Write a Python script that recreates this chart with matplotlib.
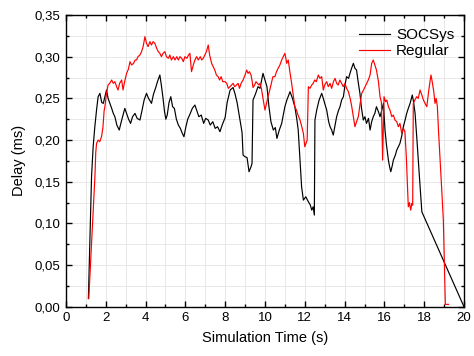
import numpy as np
import matplotlib
matplotlib.use('Agg')
import matplotlib.pyplot as plt
from matplotlib.ticker import MultipleLocator, FuncFormatter

plt.rcParams['font.family'] = ['Liberation Sans', 'DejaVu Sans']

# SOCSys curve (time in s, delay in ms)
socsys_t = [1.13, 1.29, 1.37, 1.45, 1.54, 1.62, 1.71, 1.80, 1.88, 1.96, 2.04, 2.12, 2.21, 2.30, 2.38,
            2.46, 2.56, 2.68, 2.76, 2.85, 2.96, 3.05, 3.15, 3.25, 3.35, 3.47, 3.58, 3.72, 3.82, 3.93,
            4.05, 4.15, 4.30, 4.40, 4.50, 4.60, 4.72, 4.80, 4.88, 4.95, 5.02, 5.09, 5.18, 5.27, 5.36,
            5.45, 5.55, 5.65, 5.75, 5.85, 5.93, 6.02, 6.12, 6.25, 6.35, 6.48, 6.58, 6.68, 6.80, 6.92,
            7.02, 7.15, 7.25, 7.38, 7.50, 7.62, 7.74, 7.85, 8.00, 8.10, 8.25, 8.40, 8.50, 8.60, 8.72,
            8.85, 8.90, 9.00, 9.10, 9.20, 9.30, 9.35, 9.40, 9.52, 9.65, 9.75, 9.90, 10.00, 10.10, 10.20,
            10.30, 10.42, 10.52, 10.60, 10.72, 10.84, 10.92, 11.00, 11.10, 11.26, 11.38, 11.50, 11.60,
            11.67, 11.75, 11.84, 11.93, 12.05, 12.18, 12.28, 12.35, 12.42, 12.48, 12.51, 12.60, 12.72,
            12.85, 12.93, 13.00, 13.10, 13.20, 13.27, 13.35, 13.43, 13.52, 13.60, 13.70, 13.77, 13.85,
            13.94, 14.02, 14.10, 14.20, 14.27, 14.35, 14.44, 14.52, 14.60, 14.68, 14.77, 14.85, 14.94,
            15.02, 15.10, 15.20, 15.28, 15.36, 15.44, 15.52, 15.60, 15.70, 15.78, 15.87, 15.95, 16.03,
            16.10, 16.20, 16.26, 16.32, 16.40, 16.45, 16.55, 16.62, 16.70, 16.78, 16.87, 16.95, 17.05,
            17.12, 17.20, 17.29, 17.40, 17.47, 17.54, 17.62, 17.70, 17.79, 17.88, 20.00]
socsys_d = [0.010, 0.157, 0.192, 0.215, 0.236, 0.252, 0.256, 0.245, 0.244, 0.252, 0.260, 0.250, 0.244, 0.238, 0.232,
            0.228, 0.218, 0.212, 0.220, 0.228, 0.238, 0.232, 0.225, 0.220, 0.228, 0.232, 0.226, 0.224, 0.235, 0.248,
            0.256, 0.250, 0.244, 0.255, 0.262, 0.270, 0.278, 0.265, 0.250, 0.235, 0.225, 0.230, 0.245, 0.252, 0.240,
            0.238, 0.225, 0.218, 0.214, 0.208, 0.204, 0.215, 0.225, 0.232, 0.238, 0.242, 0.235, 0.228, 0.230, 0.220,
            0.226, 0.224, 0.218, 0.222, 0.214, 0.216, 0.210, 0.218, 0.227, 0.245, 0.260, 0.263, 0.255, 0.245, 0.228,
            0.209, 0.182, 0.180, 0.179, 0.162, 0.168, 0.172, 0.248, 0.255, 0.264, 0.262, 0.280, 0.272, 0.264, 0.240,
            0.222, 0.212, 0.215, 0.202, 0.212, 0.220, 0.230, 0.240, 0.248, 0.258, 0.250, 0.240, 0.225,
            0.212, 0.180, 0.144, 0.128, 0.132, 0.126, 0.122, 0.116, 0.120, 0.110, 0.224, 0.236, 0.248,
            0.256, 0.250, 0.244, 0.236, 0.222, 0.216, 0.212, 0.206, 0.218, 0.228, 0.236, 0.240, 0.248,
            0.252, 0.266, 0.276, 0.274, 0.280, 0.286, 0.292, 0.286, 0.284, 0.270, 0.256, 0.238, 0.224,
            0.228, 0.220, 0.226, 0.212, 0.222, 0.228, 0.232, 0.240, 0.234, 0.228, 0.236, 0.244, 0.212,
            0.195, 0.176, 0.168, 0.162, 0.170, 0.176, 0.182, 0.188, 0.192, 0.196, 0.205, 0.216, 0.225,
            0.232, 0.238, 0.244, 0.254, 0.245, 0.232, 0.205, 0.176, 0.145, 0.114, 0.000]

# Regular curve
regular_t = [1.15, 1.46, 1.50, 1.54, 1.62, 1.70, 1.79, 1.86, 1.92, 1.96, 2.04, 2.12, 2.20, 2.30, 2.38,
             2.46, 2.55, 2.62, 2.70, 2.80, 2.87, 2.95, 3.05, 3.14, 3.22, 3.30, 3.40, 3.48, 3.55, 3.62,
             3.72, 3.80, 3.88, 3.97, 4.05, 4.13, 4.22, 4.30, 4.38, 4.47, 4.56, 4.64, 4.72, 4.80, 4.88,
             4.97, 5.05, 5.15, 5.22, 5.30, 5.40, 5.48, 5.57, 5.65, 5.73, 5.82, 5.90, 5.98, 6.08, 6.16,
             6.23, 6.31, 6.40, 6.48, 6.57, 6.65, 6.75, 6.82, 6.90, 6.98, 7.06, 7.15, 7.22, 7.32, 7.40,
             7.48, 7.56, 7.65, 7.72, 7.80, 7.88, 8.00, 8.08, 8.16, 8.24, 8.32, 8.40, 8.48, 8.57, 8.65,
             8.72, 8.80, 8.90, 9.00, 9.08, 9.15, 9.22, 9.30, 9.36, 9.40, 9.48, 9.55, 9.62, 9.70, 9.75,
             9.82, 9.90, 10.00, 10.08, 10.15, 10.22, 10.30, 10.40, 10.50, 10.58, 10.66, 10.75, 10.84,
             10.92, 11.00, 11.05, 11.09, 11.17, 11.25, 11.34, 11.42, 11.50, 11.58, 11.66, 11.76, 11.85,
             11.93, 12.00, 12.06, 12.12, 12.18, 12.26, 12.35, 12.42, 12.50, 12.58, 12.68, 12.76, 12.85,
             12.93, 13.00, 13.10, 13.18, 13.27, 13.35, 13.44, 13.52, 13.60, 13.68, 13.76, 13.85, 13.93,
             14.02, 14.10, 14.19, 14.28, 14.36, 14.44, 14.52, 14.60, 14.69, 14.78, 14.86, 14.95, 15.03,
             15.11, 15.19, 15.28, 15.36, 15.44, 15.52, 15.60, 15.70, 15.78, 15.85, 15.91, 15.98, 16.06,
             16.12, 16.20, 16.28, 16.37, 16.45, 16.53, 16.62, 16.70, 16.78, 16.87, 16.95, 17.03, 17.10,
             17.15, 17.20, 17.26, 17.32, 17.38, 17.42, 17.45, 17.53, 17.62, 17.70, 17.79, 17.88, 17.96,
             18.04, 18.13, 18.22, 18.30, 18.34, 18.40, 18.48, 18.54, 18.60, 18.66, 18.72, 18.80, 18.88,
             18.96, 19.06, 19.22]
regular_d = [0.010, 0.157, 0.185, 0.196, 0.200, 0.198, 0.204, 0.215, 0.235, 0.240, 0.256, 0.266, 0.268, 0.272, 0.268,
             0.270, 0.264, 0.260, 0.268, 0.272, 0.260, 0.270, 0.280, 0.285, 0.294, 0.290, 0.292, 0.296, 0.296, 0.300,
             0.302, 0.306, 0.312, 0.324, 0.316, 0.312, 0.318, 0.314, 0.318, 0.316, 0.310, 0.306, 0.304, 0.300, 0.304,
             0.306, 0.300, 0.298, 0.302, 0.296, 0.300, 0.296, 0.300, 0.296, 0.300, 0.298, 0.294, 0.300, 0.298, 0.302,
             0.304, 0.282, 0.290, 0.296, 0.300, 0.296, 0.300, 0.296, 0.298, 0.302, 0.306, 0.314, 0.302, 0.292, 0.288,
             0.284, 0.278, 0.276, 0.272, 0.276, 0.270, 0.270, 0.268, 0.262, 0.264, 0.266, 0.268, 0.264, 0.266, 0.268,
             0.262, 0.268, 0.272, 0.278, 0.284, 0.280, 0.282, 0.278, 0.270, 0.263, 0.266, 0.270, 0.268, 0.266, 0.268,
             0.262, 0.250, 0.236, 0.244, 0.252, 0.258, 0.266, 0.276, 0.276, 0.282, 0.286, 0.290, 0.296,
             0.300, 0.304, 0.298, 0.292, 0.296, 0.282, 0.268, 0.254, 0.240, 0.236, 0.230, 0.224, 0.216,
             0.208, 0.192, 0.196, 0.200, 0.264, 0.262, 0.266, 0.268, 0.272, 0.270, 0.278, 0.274, 0.276,
             0.260, 0.266, 0.270, 0.264, 0.268, 0.262, 0.270, 0.274, 0.268, 0.266, 0.272, 0.268, 0.264,
             0.268, 0.262, 0.258, 0.250, 0.240, 0.228, 0.216, 0.222, 0.228, 0.244, 0.256, 0.260, 0.264,
             0.268, 0.272, 0.278, 0.292, 0.296, 0.290, 0.284, 0.270, 0.252, 0.245, 0.176, 0.252, 0.246,
             0.248, 0.240, 0.236, 0.228, 0.230, 0.224, 0.222, 0.216, 0.220, 0.208, 0.214, 0.210, 0.180,
             0.150, 0.120, 0.125, 0.116, 0.124, 0.122, 0.244, 0.248, 0.252, 0.250, 0.260, 0.254, 0.248,
             0.244, 0.240, 0.258, 0.272, 0.278, 0.270, 0.258, 0.244, 0.250, 0.240, 0.210, 0.176, 0.140,
             0.104, 0.003, 0.003]

fig = plt.figure(figsize=(4.74, 3.56), dpi=100)
ax = fig.add_axes([0.139, 0.138, 0.840, 0.820])

ax.plot(socsys_t, socsys_d, color='black', linewidth=0.85, label='SOCSys')
ax.plot(regular_t, regular_d, color='#ff0000', linewidth=0.85, label='Regular')

ax.set_xlim(0, 20)
ax.set_ylim(0, 0.35)
ax.xaxis.set_major_locator(MultipleLocator(2))
ax.xaxis.set_minor_locator(MultipleLocator(1))
ax.yaxis.set_major_locator(MultipleLocator(0.05))
ax.yaxis.set_minor_locator(MultipleLocator(0.025))
ax.yaxis.set_major_formatter(FuncFormatter(lambda v, p: ('%.2f' % v).replace('.', ',')))

ax.grid(True, which='both', color='#e4e4e4', linewidth=0.6)
ax.set_axisbelow(True)
ax.tick_params(which='both', direction='in', top=True, right=True, labelsize=9.5, width=1.0)
ax.tick_params(which='major', length=4, pad=4)
ax.tick_params(which='minor', length=2.5)
for s in ax.spines.values():
    s.set_linewidth(1.0)

ax.set_xlabel('Simulation Time (s)', fontsize=10.5, labelpad=5)
ax.set_ylabel('Delay (ms)', fontsize=10.5, labelpad=6)

ax.legend(loc='upper right', frameon=False, fontsize=11, handlelength=2.0,
          borderaxespad=0.45, labelspacing=0.15, handletextpad=0.4,
          bbox_to_anchor=(1.008, 1.0))

fig.savefig('out.png', dpi=100)
